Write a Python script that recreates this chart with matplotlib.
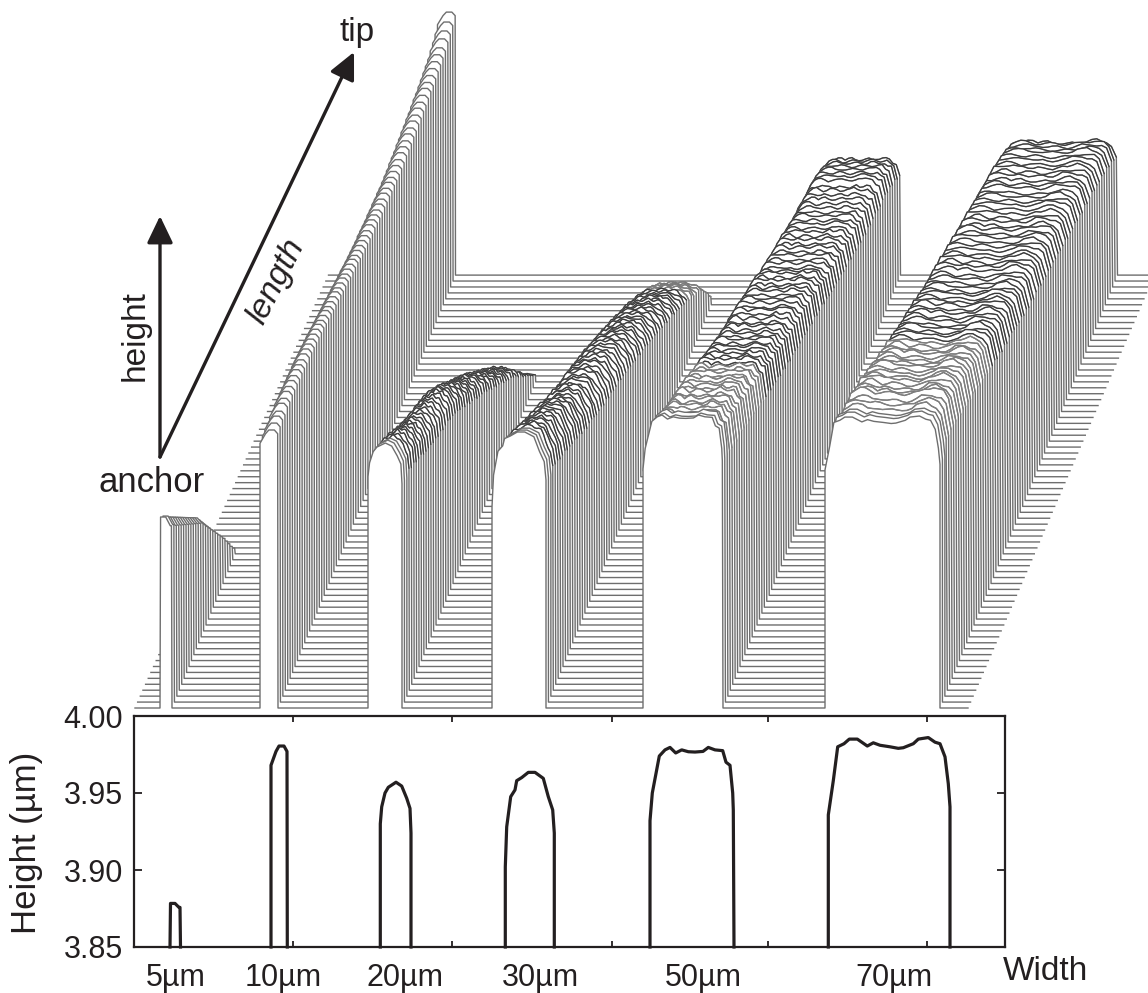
import matplotlib
matplotlib.use("Agg")
import matplotlib.pyplot as plt
import numpy as np

plt.rcParams['font.family'] = ['Liberation Sans', 'DejaVu Sans']

# cross sections: width position, height in um
x_5 = [170, 170.5, 175, 179, 180, 180.5]
h_5 = [3.85, 3.8783, 3.8783, 3.8757, 3.8757, 3.85]
x_10 = [271, 271, 276, 279, 284, 287, 287.3]
h_10 = [3.85, 3.968, 3.977, 3.9805, 3.9805, 3.977, 3.85]
x_20 = [380.3, 380.3, 381.7, 385, 388.3, 396, 401.7, 406.7, 410, 411, 411]
h_20 = [3.85, 3.93, 3.941, 3.95, 3.9537, 3.957, 3.9545, 3.9466, 3.94, 3.924, 3.85]
x_30 = [505.3, 505.3, 506.7, 510.7, 515, 516.7, 521.7, 528.3, 535, 543.3, 548.3, 552.7, 554.3, 554.3]
h_30 = [3.85, 3.902, 3.928, 3.9476, 3.952, 3.958, 3.96, 3.9634, 3.9634, 3.9595, 3.9476, 3.939, 3.924, 3.85]
x_50 = [650, 650, 652.3, 659.3, 665, 670, 675.7, 681.7, 688.3, 695, 703, 708.3, 715, 722.7, 726, 730, 732.7, 733.3, 734]
h_50 = [3.85, 3.932, 3.95, 3.974, 3.978, 3.9796, 3.976, 3.978, 3.9768, 3.9766, 3.977, 3.9796, 3.978, 3.9775, 3.97, 3.968, 3.95, 3.939, 3.85]
x_70 = [828.3, 828.3, 833.3, 837.7, 844, 849.3, 857.3, 867.3, 873.3, 880, 890, 898.3, 903.3, 913.3, 918.3, 928.3, 935, 940, 945, 948.3, 950, 950]
h_70 = [3.85, 3.9358, 3.958, 3.98, 3.982, 3.985, 3.985, 3.9805, 3.9826, 3.981, 3.98, 3.979, 3.9794, 3.982, 3.985, 3.986, 3.983, 3.982, 3.9735, 3.956, 3.941, 3.85]

sections = [(x_5, h_5), (x_10, h_10), (x_20, h_20), (x_30, h_30), (x_50, h_50), (x_70, h_70)]

# surface plot: front edge of each beam on the drawing
beam_left = [160, 260, 368, 492, 643, 825]
beam_right = [172, 278, 402, 546, 723, 940]

# beam height for every scan row, front to back
rows_5 = [191, 186, 179, 173, 167, 161, 155, 149, 143, 137, 131, 125, 119, 113, 105, 97, 89, 81, 73, 65, 57, 49, 41, 32, 23, 14, 6]
rows_10 = [278, 279, 280, 279, 281, 280, 281, 280, 280, 279,
           279, 278, 277, 277, 276, 275, 274, 273, 272, 271,
           269, 268, 267, 265, 264, 263, 262, 260, 259, 258,
           256, 255, 254, 253, 251, 250, 249, 248, 247, 246,
           246, 245, 244, 243, 243, 242, 242, 241, 241, 240,
           240, 240, 240, 241, 241, 241, 242, 242, 243, 243,
           244, 244, 245, 246, 246, 247, 248, 249, 250, 251,
           254, 256, 259, 263]
rows_20 = [265, 262, 258, 255, 251, 248, 244, 240, 236, 232, 228, 225, 221, 218, 215, 212, 209, 206, 203, 200,
           197, 194, 190, 185, 181, 176, 171, 166, 161, 156, 151, 146, 141, 137, 132, 127, 121, 116, 110, 105,
           100, 94, 89, 84, 78, 73, 68, 61, 55, 48, 41, 34, 27, 21, 14, 8]
rows_30 = [276, 272, 268, 265, 262, 257, 254, 250, 247, 243, 240, 236, 233, 229, 226, 221, 217, 213, 211, 207,
           205, 200, 198, 195, 191, 190, 186, 183, 181, 177, 175, 172, 169, 166, 163, 160, 156, 153, 150, 146,
           143, 139, 136, 133, 129, 125, 122, 118, 115, 111, 107, 103, 100, 95, 92, 87, 83, 79, 75, 70,
           66, 61, 56, 51, 46, 38, 29, 20, 10]
rows_50 = [293, 289, 287, 281, 279, 277, 273, 272, 268, 267, 263, 261, 258, 256, 251, 250, 246, 244, 240, 239,
           235, 233, 230, 228, 224, 223, 219, 217, 214, 213, 209, 208, 206, 205, 201, 200, 198, 195, 194, 191,
           188, 187, 183, 182, 178, 175, 174, 171, 170, 167, 166, 163, 162, 159, 158, 155, 154, 151, 150, 147,
           146, 144, 143, 141, 140, 137, 138, 136, 133, 131, 128, 125, 121, 117]
rows_70 = [292, 291, 288, 287, 286, 284, 285, 281, 278, 276, 275, 271, 269, 266, 265, 261, 258, 255, 254, 250,
           248, 246, 243, 242, 238, 237, 233, 232, 229, 228, 225, 224, 221, 218, 217, 213, 212, 209, 208, 205,
           205, 203, 200, 199, 196, 195, 193, 191, 190, 187, 186, 183, 182, 179, 178, 176, 175, 172, 171, 168,
           168, 165, 163, 162, 159, 158, 155, 154, 151, 150, 146, 143, 140, 135]
beam_rows = [rows_5, rows_10, rows_20, rows_30, rows_50, rows_70]

# surface roughness of the wide beams, a hand written estimate in pixels (rows, then columns)
ripple = [
    [1, 2, 1, -1, -2, -1, 1, 3, 2, 0, -2, -3, -1, 1, 2, 1, 0, -1, -3, -2, 0, 2, 3, 1],
    [-2, -1, 1, 2, 3, 1, -1, -2, 0, 2, 1, -1, 2, 3, 1, -1, -2, -3, -1, 1, 2, 0, -2, -1],
    [2, 0, -2, -3, -1, 2, 3, 1, -1, -3, -2, 1, 3, 1, -2, -3, 0, 2, 3, 2, -1, -3, -1, 2],
    [-1, 2, 3, 1, -1, -2, -3, -1, 2, 3, 2, 0, -2, -1, 1, 3, 2, -1, -2, -3, 1, 3, 2, -1],
    [3, 1, -1, -2, 1, 3, 1, -2, -3, -1, 1, 3, 2, -1, -3, -1, 2, 3, 1, -2, -3, -1, 1, 3],
    [-3, -1, 2, 3, 2, -1, -3, -2, 1, 3, 1, -2, -3, 0, 3, 2, -1, -2, 1, 3, 2, -1, -3, -2],
    [1, 3, 1, -2, -3, -2, 1, 3, 3, 0, -3, -2, 1, 2, -1, -3, -2, 1, 3, 1, -2, -3, 1, 3],
    [-2, -3, 0, 3, 2, -1, -2, 1, -2, -3, 1, 3, 2, -1, -3, 1, 3, 2, -2, -3, 0, 2, 3, 0],
    [3, 2, -1, -3, -1, 2, 3, 0, -2, 1, 3, 1, -2, -3, 1, 3, 0, -3, -1, 2, 3, 1, -2, -3],
    [-1, 1, 3, 1, -2, -3, 1, 3, 2, -2, -3, -1, 3, 2, -1, -2, -3, 1, 3, 2, -1, -3, 0, 2],
    [2, -2, -3, 0, 3, 2, -2, -3, -1, 3, 2, -2, -1, 1, 3, 0, -2, 3, 1, -3, -2, 2, 3, 1],
]
rough_beams = [2, 3, 4, 5]
# first and last scan row drawn dark on each rough beam, the rest of the top stays lighter
dark_from = {2: 0, 3: 0, 4: 18, 5: 22}
dark_to = {2: 99, 3: 58, 4: 99, 5: 99}

beam_labels = ['5µm', '10µm', '20µm', '30µm', '50µm', '70µm']
label_x = [176, 283, 405, 540, 703, 894]
y_ticks = [3.85, 3.90, 3.95, 4.00]
x_ticks = [293, 452, 612, 768, 927]

ink = '#231f20'
fig = plt.figure(figsize=(11.48, 9.93), dpi=100)

# whole figure axes in picture pixels, for the surface plot and the labels
top = fig.add_axes([0, 0, 1, 1])
top.set_xlim(0, 1148)
top.set_ylim(993, 0)
top.axis('off')

n_rows = 74
row_step = 5.93
for i in range(n_rows - 1, -1, -1):
    d = i * row_step
    base = 708 - d
    xs = [135 + 0.447 * d]
    ys = [base]
    tops = []
    for b in range(6):
        if i >= len(beam_rows[b]):
            continue
        sx = np.array(sections[b][0])
        sh = np.array(sections[b][1])
        u = (sx - sx.min()) / (sx.max() - sx.min())
        z = (sh - 3.85) / (sh.max() - 3.85)
        z = np.where(z > 0, 1 - 0.5 * (1 - z), 0)
        if b in rough_beams and i > 2:
            grid = np.linspace(0.01, 0.99, 24)
            zg = np.interp(grid, u, z)
            bx = beam_left[b] + grid * (beam_right[b] - beam_left[b]) + 0.41 * d
            by = base - zg * beam_rows[b][i] + np.array(ripple[i % len(ripple)]) * 0.45 * min(1.0, beam_rows[b][i] / 60)
            shade = '#3a3a3a' if dark_from[b] <= i <= dark_to[b] else '#808080'
            tops.append((bx, by, shade))
            xs.append(beam_left[b] + 0.41 * d)
            ys.append(base)
            xs.extend(bx)
            ys.extend(by)
            xs.append(beam_right[b] + 0.41 * d)
            ys.append(base)
        else:
            xs.extend(beam_left[b] + u * (beam_right[b] - beam_left[b]) + 0.41 * d)
            ys.extend(base - z * beam_rows[b][i])
    xs.append(968 + 0.43 * d)
    ys.append(base)
    top.fill(xs, ys, color='white', lw=0, zorder=2 + 2 * (n_rows - i))
    top.plot(xs, ys, color='#6e6e6e', lw=1.0, zorder=3 + 2 * (n_rows - i))
    for bx, by, shade in tops:
        top.plot(bx, by, color=shade, lw=0.8, zorder=3 + 2 * (n_rows - i))

# arrows from the anchor
arrow = dict(arrowstyle='-|>,head_length=0.75,head_width=0.36', color=ink, lw=2.4, shrinkA=0, shrinkB=0, mutation_scale=22)
top.annotate('', xy=(160, 216), xytext=(160, 457), arrowprops=arrow, zorder=400)
top.annotate('', xy=(354, 52), xytext=(160, 457), arrowprops=arrow, zorder=400)

size = 22
top.text(357, 32, 'tip', fontsize=24, color=ink, ha='center', va='center', zorder=400)
top.text(135, 336, 'height', fontsize=24, color=ink, rotation=90, ha='center', va='center', zorder=400)
top.text(276, 281, 'length', fontsize=24, color=ink, rotation=63, style='italic', ha='center', va='center', zorder=400)
top.text(152, 483, 'anchor', fontsize=25, color=ink, ha='center', va='center', zorder=400)
top.text(1045, 971, 'Width', fontsize=24, color=ink, ha='center', va='center', zorder=400)
top.text(27, 843, 'Height (µm)', fontsize=25, color=ink, rotation=90, ha='center', va='center', zorder=400)
for name, lx in zip(beam_labels, label_x):
    top.text(lx, 978, name, fontsize=size, color=ink, ha='center', va='center', zorder=400)

# lower chart
ax = fig.add_axes([134 / 1148, 1 - 947 / 993, (1005 - 134) / 1148, (947 - 716) / 993])
for sx, sh in sections:
    ax.plot(sx, sh, color=ink, lw=2.3, solid_joinstyle='round', clip_on=False)
ax.set_xlim(134, 1005)
ax.set_ylim(3.85, 4.00)
ax.set_xticks(x_ticks)
ax.set_xticklabels([])
ax.set_yticks(y_ticks)
ax.set_yticklabels(['%.2f' % v for v in y_ticks], fontsize=size, color=ink)
ax.tick_params(axis='x', direction='in', top=True, bottom=True, length=4, width=1.3, color=ink)
ax.tick_params(axis='y', direction='in', left=True, right=True, length=6, width=1.3, color=ink, pad=8)
for s in ax.spines.values():
    s.set_linewidth(1.6)
    s.set_color(ink)

fig.savefig('out.png', dpi=100)
